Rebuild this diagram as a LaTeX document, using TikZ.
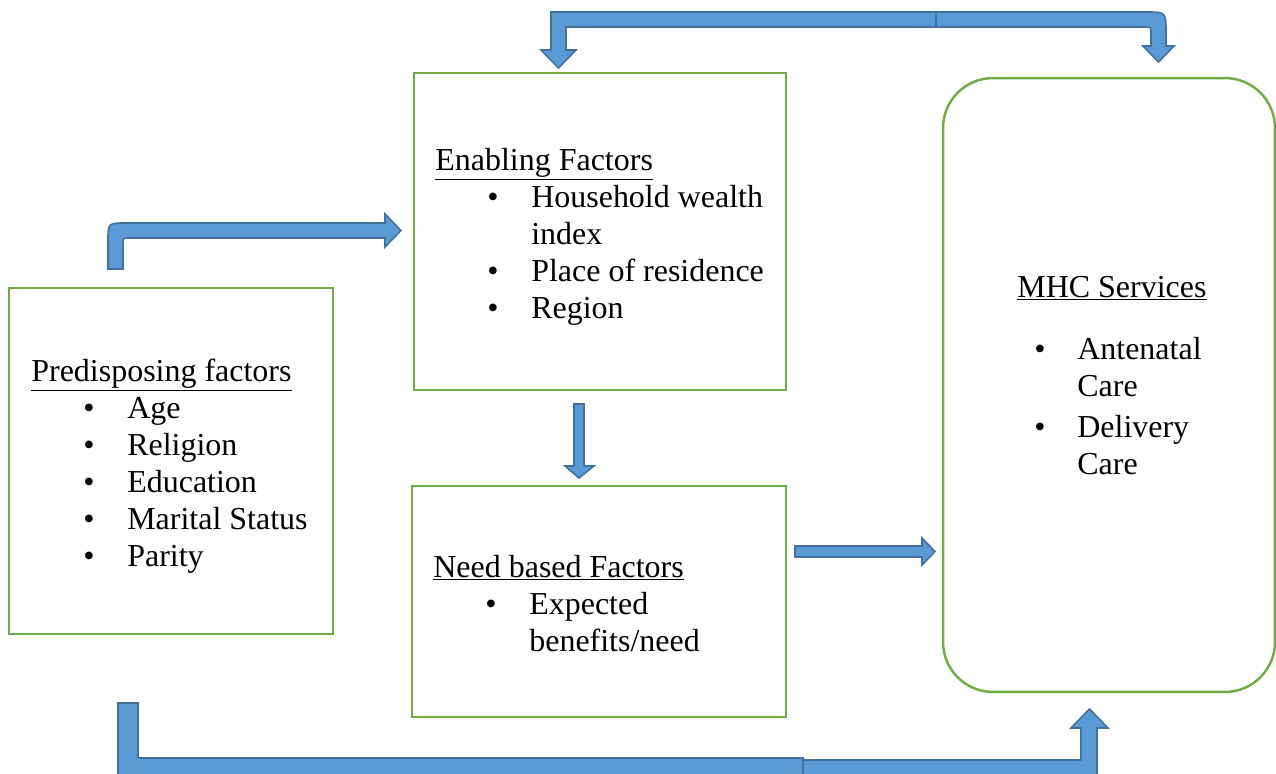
\documentclass[tikz,border=0pt]{standalone}
\usepackage{fontspec}
\setmainfont{Liberation Serif}
\definecolor{arrowfill}{HTML}{5B9BD5}
\definecolor{arrowline}{HTML}{41719C}
\definecolor{boxgreen}{HTML}{70AD47}
\newcommand{\bulletline}[1]{\makebox[1.92cm][l]{\hspace{1.04cm}\textbullet}#1}
\newcommand{\hangline}[1]{\hspace*{1.92cm}#1}
\newcommand{\mhcline}[1]{\makebox[1.2cm][l]{\hspace{0.34cm}\textbullet}#1}
\tikzset{
  factorbox/.style={draw=boxgreen, line width=1.4pt, inner sep=0pt},
  factortext/.style={align=left, anchor=base west, inner sep=0pt, font=\fontsize{18.2}{21.05}\selectfont},
  blockarrow/.style={fill=arrowfill, draw=arrowline, line width=0.9pt, line join=miter}
}
\begin{document}
\begin{tikzpicture}[x=0.02cm, y=-0.02cm]
        \useasboundingbox (0,0) rectangle (1276,774);
        % boxes
        \node[factorbox, minimum width=6.48cm, minimum height=6.92cm] (pre) at (171,461) {};
        \node[factorbox, minimum width=7.44cm, minimum height=6.34cm] (ena) at (600,231.5) {};
        \node[factorbox, minimum width=7.48cm, minimum height=4.62cm] (need) at (599,601.5) {};
        \node[factorbox, rounded corners=1cm, minimum width=6.64cm, minimum height=12.28cm] (mhc) at (1109,385) {};
        % texts (anchored at the baseline of their last line)
        \node[factortext] (preText) at (31,566) {\underline{Predisposing factors}\\
            \bulletline{Age}\\ \bulletline{Religion}\\ \bulletline{Education}\\
            \bulletline{Marital Status}\\ \bulletline{Parity}};
        \node[factortext] (enaText) at (435,318) {\underline{Enabling Factors}\\
            \bulletline{Household wealth}\\ \hangline{index}\\
            \bulletline{Place of residence}\\ \bulletline{Region}};
        \node[factortext] (needText) at (433,651) {\underline{Need based Factors}\\
            \bulletline{Expected}\\ \hangline{benefits/need}};
        \node[factortext] (mhcText) at (1017,474) {\underline{MHC Services}\\[0.5cm]
            \mhcline{Antenatal}\\ \hspace*{1.2cm}Care\\[0.08cm]
            \mhcline{Delivery}\\ \hspace*{1.2cm}Care};
        % arrows
        \draw[blockarrow] (936,12) -- (551,12) -- (551,50) -- (541,50) -- (558.5,68) -- (576,50)
            -- (566,50) -- (566,27) -- (936,27) -- cycle;
        \draw[blockarrow] (936,12) -- (1146,12) .. controls (1166,12) .. (1166,32) -- (1166,46)
            -- (1174,46) -- (1158.5,62) -- (1143,46) -- (1151,46) -- (1151,33)
            .. controls (1151,27) .. (1145,27) -- (936,27) -- cycle;
        \draw[blockarrow] (108,269) -- (108,241) .. controls (108,223) .. (126,223) -- (385,223)
            -- (385,214) -- (401,230.5) -- (385,247) -- (385,238) -- (129,238)
            .. controls (123,238) .. (123,244) -- (123,269) -- cycle;
        \draw[blockarrow] (574,404) -- (584,404) -- (584,466) -- (594,466) -- (579,478)
            -- (565,466) -- (574,466) -- cycle;
        \draw[blockarrow] (795,546) -- (922,546) -- (922,538) -- (935,551.5) -- (922,565)
            -- (922,557) -- (795,557) -- cycle;
        \draw[blockarrow] (118,703) -- (138,703) -- (138,758) -- (803,758) -- (803,782)
            -- (118,782) -- cycle;
        \draw[blockarrow] (803,760) -- (1081,760) -- (1081,728) -- (1071,728) -- (1089.5,709)
            -- (1108,728) -- (1097,728) -- (1097,782) -- (803,782) -- cycle;
    \end{tikzpicture}
\end{document}
